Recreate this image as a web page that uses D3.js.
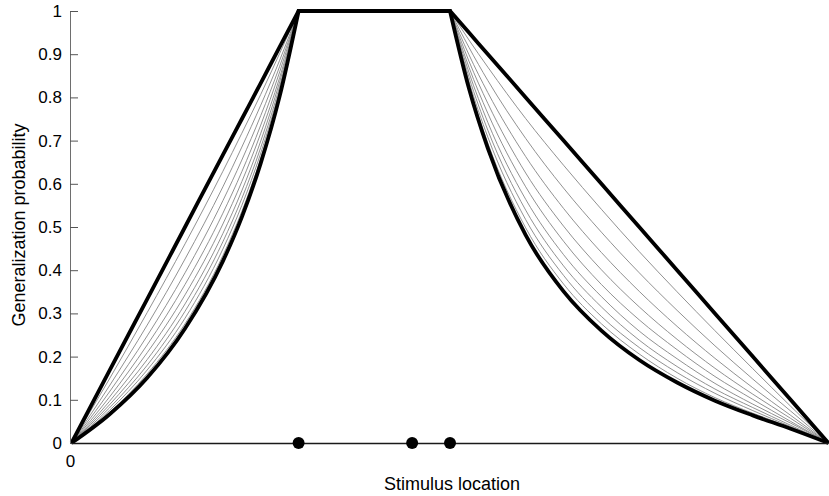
<!DOCTYPE html>
<html>
<head>
<meta charset="utf-8">
<script src="https://cdn.jsdelivr.net/npm/d3@7/dist/d3.min.js"></script>
<style>
  html, body { margin: 0; padding: 0; background: #fff; }
  svg { display: block; font-family: "Liberation Sans", Arial, Helvetica, sans-serif; }
</style>
</head>
<body>
<svg id="chart" width="829" height="496"></svg>
<script>
// Generalization gradients for sampling weights theta = 0 (weak) ... 1 (strong)
const thetas = [0, 0.1, 0.2, 0.3, 0.4, 0.5, 0.6, 0.7, 0.8, 0.9, 1];

// Stimulus locations of the three observed examples
const examples = [3, 4.5, 5];

// Sample locations below and above the examples
const xLeft  = [0, 0.5, 1, 1.5, 2, 2.25, 2.5, 2.75, 3];
const xRight = [5, 5.25, 5.5, 6, 6.5, 7, 7.5, 8, 8.5, 9, 9.5, 10];

// Generalization probability below the examples, one row per theta
const leftValues = [
  [0, 0.167, 0.333, 0.500, 0.667, 0.750, 0.833, 0.917, 1],
  [0, 0.148, 0.302, 0.461, 0.629, 0.717, 0.807, 0.902, 1],
  [0, 0.132, 0.273, 0.426, 0.593, 0.685, 0.782, 0.886, 1],
  [0, 0.118, 0.248, 0.394, 0.561, 0.655, 0.758, 0.872, 1],
  [0, 0.106, 0.227, 0.367, 0.532, 0.628, 0.736, 0.859, 1],
  [0, 0.096, 0.209, 0.343, 0.507, 0.605, 0.717, 0.846, 1],
  [0, 0.088, 0.193, 0.322, 0.485, 0.584, 0.699, 0.836, 1],
  [0, 0.081, 0.180, 0.305, 0.466, 0.566, 0.684, 0.826, 1],
  [0, 0.075, 0.169, 0.289, 0.449, 0.550, 0.671, 0.818, 1],
  [0, 0.070, 0.160, 0.276, 0.434, 0.536, 0.659, 0.810, 1],
  [0, 0.066, 0.151, 0.265, 0.421, 0.523, 0.648, 0.803, 1]
];

// Generalization probability above the examples, one row per theta
const rightValues = [
  [1, 0.950, 0.900, 0.800, 0.700, 0.600, 0.500, 0.400, 0.300, 0.200, 0.100, 0],
  [1, 0.933, 0.870, 0.751, 0.643, 0.541, 0.443, 0.350, 0.260, 0.172, 0.085, 0],
  [1, 0.916, 0.839, 0.705, 0.590, 0.488, 0.394, 0.307, 0.225, 0.148, 0.074, 0],
  [1, 0.899, 0.811, 0.663, 0.543, 0.441, 0.351, 0.270, 0.196, 0.128, 0.064, 0],
  [1, 0.884, 0.786, 0.625, 0.502, 0.401, 0.315, 0.240, 0.173, 0.113, 0.057, 0],
  [1, 0.870, 0.763, 0.593, 0.467, 0.367, 0.285, 0.216, 0.154, 0.101, 0.050, 0],
  [1, 0.858, 0.742, 0.564, 0.436, 0.339, 0.259, 0.195, 0.138, 0.090, 0.046, 0],
  [1, 0.847, 0.724, 0.539, 0.410, 0.315, 0.238, 0.177, 0.125, 0.082, 0.041, 0],
  [1, 0.837, 0.708, 0.517, 0.388, 0.293, 0.221, 0.163, 0.115, 0.075, 0.038, 0],
  [1, 0.829, 0.694, 0.498, 0.368, 0.276, 0.206, 0.150, 0.105, 0.069, 0.036, 0],
  [1, 0.821, 0.682, 0.481, 0.351, 0.260, 0.192, 0.140, 0.098, 0.064, 0.033, 0]
];

const yTickValues = [0, 0.1, 0.2, 0.3, 0.4, 0.5, 0.6, 0.7, 0.8, 0.9, 1];
const yTickLabels = ["0", "0.1", "0.2", "0.3", "0.4", "0.5", "0.6", "0.7", "0.8", "0.9", "1"];
const xTickValues = [0];
const xTickLabels = ["0"];

const svg = d3.select("#chart");

const x = d3.scaleLinear().domain([0, 10]).range([71.5, 828.5]);
const y = d3.scaleLinear().domain([0, 1]).range([443, 11]);

const line = d3.line()
  .x(d => x(d[0]))
  .y(d => y(d[1]))
  .curve(d3.curveMonotoneX);

// Left branch, flat top between the outer examples, right branch
function gradientPath(i) {
  const left = line(xLeft.map((v, j) => [v, leftValues[i][j]]));
  const right = line(xRight.map((v, j) => [v, rightValues[i][j]]));
  return left + right.replace(/^M/, "L");
}

const curves = svg.append("g");

// thin intermediate gradients first, the two extremes on top
thetas.forEach((t, i) => {
  if (i === 0 || i === thetas.length - 1) return;
  curves.append("path")
    .attr("d", gradientPath(i))
    .attr("fill", "none")
    .attr("stroke", "#858585")
    .attr("stroke-width", 0.9);
});
[0, thetas.length - 1].forEach(i => {
  curves.append("path")
    .attr("d", gradientPath(i))
    .attr("fill", "none")
    .attr("stroke", "#000")
    .attr("stroke-width", 3.8)
    .attr("stroke-linejoin", "miter");
});

// y axis with inward ticks
const yAxis = d3.axisLeft(y)
  .tickValues(yTickValues)
  .tickFormat((d, i) => yTickLabels[i])
  .tickSizeInner(-8)
  .tickSizeOuter(0)
  .tickPadding(8);

const gy = svg.append("g")
  .attr("transform", "translate(70,0)")
  .call(yAxis);
gy.select(".domain").attr("stroke", "#6e6e6e").attr("stroke-width", 1);
gy.selectAll(".tick line").attr("stroke", "#555").attr("stroke-width", 1);
gy.selectAll(".tick text")
  .attr("fill", "#000")
  .style("font-size", "17px")
  .style("font-family", "'Liberation Sans', Arial, sans-serif");

// x axis baseline
svg.append("line")
  .attr("x1", x(0))
  .attr("x2", x(10))
  .attr("y1", y(0) + 0.5)
  .attr("y2", y(0) + 0.5)
  .attr("stroke", "#1a1a1a")
  .attr("stroke-width", 1.3);

svg.append("g").selectAll("text")
  .data(xTickValues)
  .join("text")
  .attr("x", d => x(d) - 1)
  .attr("y", 467)
  .attr("text-anchor", "middle")
  .style("font-size", "17px")
  .text((d, i) => xTickLabels[i]);

// observed examples
svg.append("g").selectAll("circle")
  .data(examples)
  .join("circle")
  .attr("cx", d => x(d))
  .attr("cy", y(0))
  .attr("r", 6)
  .attr("fill", "#000");

// axis titles
svg.append("text")
  .attr("x", 452)
  .attr("y", 490)
  .attr("text-anchor", "middle")
  .style("font-size", "18px")
  .text("Stimulus location");

svg.append("text")
  .attr("transform", "translate(25,225) rotate(-90)")
  .attr("text-anchor", "middle")
  .style("font-size", "18px")
  .text("Generalization probability");
</script>
</body>
</html>
